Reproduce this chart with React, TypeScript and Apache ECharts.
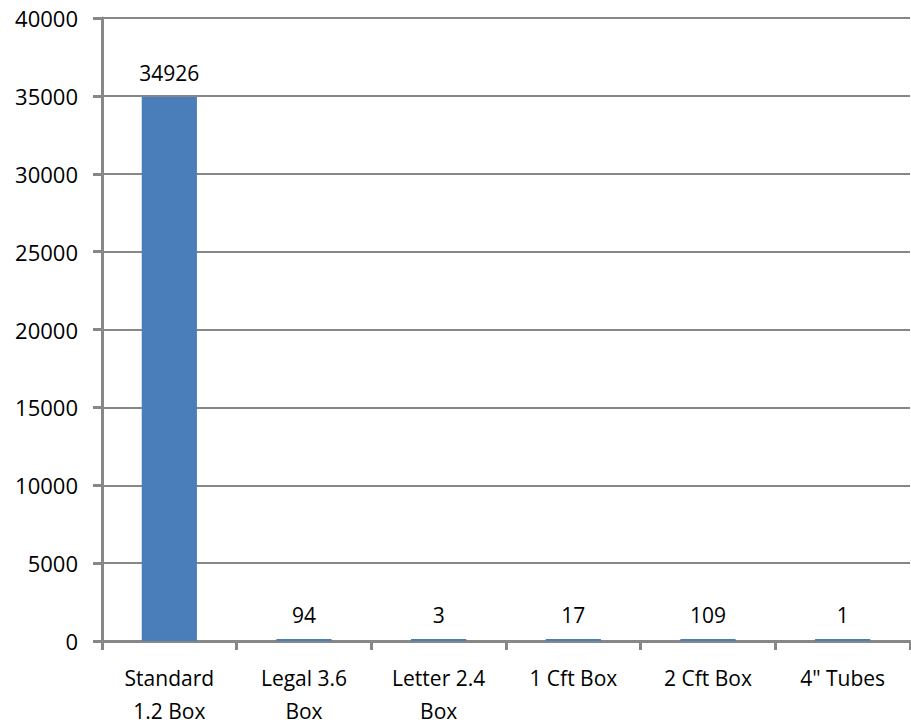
import React, { useEffect, useRef } from "react";
import * as echarts from "echarts";

const categories = ["Standard\n1.2 Box", "Legal 3.6\nBox", "Letter 2.4\nBox", "1 Cft Box", "2 Cft Box", "4\" Tubes"];
const values = [34926, 94, 3, 17, 109, 1];
const yMin = 0;
const yMax = 40000;
const yInterval = 5000;

export default function App() {
  const ref = useRef<HTMLDivElement>(null);
  useEffect(() => {
    if (!ref.current) return;
    const chart = echarts.init(ref.current, undefined, { renderer: "svg" });
    const font = "'Open Sans', 'Liberation Sans', sans-serif";
    chart.setOption({
      animation: false,
      backgroundColor: "#ffffff",
      grid: { left: 102, right: 1, top: 18, bottom: 83, containLabel: false, outerBoundsMode: "none" },
      xAxis: {
        type: "category",
        data: categories,
        axisLine: { show: true, lineStyle: { color: "#878787", width: 3 } },
        axisTick: { show: true, alignWithLabel: false, length: 9, lineStyle: { color: "#878787", width: 3 } },
        axisLabel: { color: "#000", fontSize: 21, fontFamily: font, margin: 20, lineHeight: 33, interval: 0 },
        splitLine: { show: false },
      },
      yAxis: {
        type: "value",
        min: yMin,
        max: yMax,
        interval: yInterval,
        axisLine: { show: true, lineStyle: { color: "#878787", width: 3 } },
        axisTick: { show: true, length: 9, lineStyle: { color: "#878787", width: 3 } },
        axisLabel: { color: "#000", fontSize: 22, fontFamily: font, margin: 24, formatter: (v: number) => String(v) },
        splitLine: { show: true, lineStyle: { color: "#878787", width: 2 } },
      },
      series: [
        {
          type: "bar",
          data: values,
          barWidth: "41%",
          barMinHeight: 2,
          itemStyle: { color: "#4A7EBB" },
          label: { show: true, position: "top", distance: 14, color: "#000", fontSize: 21, fontFamily: font },
        },
      ],
    });
    return () => chart.dispose();
  }, []);
  return <div ref={ref} style={{ width: 911, height: 724, position: "absolute", left: 0, top: 0 }} />;
}
